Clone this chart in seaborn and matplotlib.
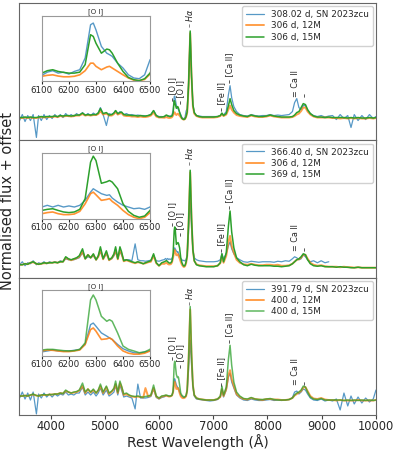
import numpy as np
import matplotlib
matplotlib.use('Agg')
import matplotlib.pyplot as plt
import seaborn as sns

sns.set_style('ticks')
plt.rcParams['font.family'] = ['DejaVu Sans']

# ── Datos: longitud de onda (Å) y flujo normalizado + offset ──────────────
wave = [3430, 3480, 3530, 3580, 3630, 3680, 3740, 3780, 3830, 3880, 3930, 3980,
        4030, 4080, 4130, 4180, 4230, 4280, 4330, 4380, 4430, 4480,
        4530, 4590, 4640, 4690, 4740, 4790, 4840, 4880, 4920, 4970,
        5030, 5080, 5130, 5170, 5200, 5240, 5280, 5310, 5350, 5400,
        5450, 5500, 5560, 5610, 5660, 5710, 5750, 5800, 5850, 5900, 5950, 6000, 6050,
        6100, 6120, 6140, 6160, 6180, 6200, 6220, 6240, 6260, 6280, 6290, 6300,
        6320, 6340, 6350, 6360, 6380, 6400, 6420, 6440, 6460, 6480, 6500,
        6520, 6545, 6575, 6600, 6625, 6650, 6690, 6740, 6800, 6870,
        6940, 7010, 7080, 7130, 7160, 7190, 7240, 7280, 7310, 7340,
        7380, 7430, 7490, 7560, 7630, 7700, 7770, 7840, 7910, 7980,
        8050, 8120, 8190, 8260, 8330, 8400, 8460, 8500, 8540, 8580,
        8620, 8660, 8700, 8740, 8790, 8850, 8920, 8990, 9060, 9130,
        9200, 9270, 9340, 9410, 9480, 9540, 9600, 9670, 9740, 9810, 9880, 9950, 10000]

# Panel superior
top_sn = [2.0, 2.6, 1.9, 2.5, 2.0, 2.6, 0.3, 2.5, 2.0, 2.6, 2.1, 2.5,
          2.2, 2.6, 2.3, 2.6, 2.3, 2.7, 2.4, 2.6, 2.4, 2.7,
          2.5, 2.8, 2.5, 2.7, 2.5, 2.75, 2.55, 2.8, 3.3, 2.6,
          1.5, 2.7, 2.6, 2.8, 3.0, 2.6, 2.9, 2.8, 2.6, 2.7,
          2.55, 2.6, 2.5, 2.55, 2.5, 2.5, 2.45, 2.5, 2.6, 3.0, 2.5, 2.4, 2.4,
          2.32, 2.45, 2.51, 2.41, 2.45, 2.37, 2.48, 2.55, 3.03, 4.40, 4.47, 4.19,
          3.51, 3.23, 3.17, 3.10, 2.82, 2.62, 2.34, 2.21, 2.18, 2.34, 2.96,
          3.2, 5.8, 10.7, 6.3, 3.6, 2.8, 2.5, 2.45, 2.4, 2.4,
          2.4, 2.4, 2.4, 2.5, 2.7, 2.55, 2.9, 4.6, 5.5, 4.3,
          3.4, 2.9, 2.6, 2.5, 2.45, 2.6, 2.5, 2.45, 2.5, 2.5,
          2.6, 2.5, 2.55, 2.5, 2.55, 2.6, 2.9, 3.8, 4.2, 3.3,
          3.1, 3.5, 3.5, 3.0, 2.7, 2.5, 2.4, 2.5, 2.35, 2.45,
          2.5, 2.1, 2.6, 2.2, 2.5, 1.3, 2.6, 2.0, 2.5, 2.1, 2.6, 2.2, 2.4]
top_12m = [2.25, 2.25, 2.3, 2.25, 2.3, 2.25, 2.25, 2.3, 2.35, 2.3, 2.35, 2.35,
           2.35, 2.4, 2.35, 2.45, 2.4, 2.45, 2.45, 2.4, 2.45, 2.5,
           2.5, 2.65, 2.5, 2.55, 2.5, 2.55, 2.55, 2.65, 2.95, 2.6,
           2.7, 2.5, 2.5, 2.65, 2.85, 2.6, 2.7, 2.75, 2.5, 2.45,
           2.45, 2.4, 2.4, 2.35, 2.4, 2.35, 2.35, 2.4, 2.5, 2.8, 2.4, 2.3, 2.3,
           2.28, 2.32, 2.34, 2.29, 2.26, 2.26, 2.28, 2.34, 2.51, 2.82, 2.82, 2.69,
           2.55, 2.66, 2.69, 2.62, 2.48, 2.34, 2.21, 2.12, 2.10, 2.15, 2.37,
           2.8, 5.3, 10.8, 6.4, 3.4, 2.7, 2.45, 2.35, 2.3, 2.3,
           2.3, 2.3, 2.35, 2.45, 2.65, 2.45, 2.6, 3.1, 3.5, 3.1,
           2.8, 2.55, 2.45, 2.4, 2.35, 2.5, 2.4, 2.35, 2.35, 2.4,
           2.5, 2.4, 2.35, 2.3, 2.3, 2.3, 2.35, 2.45, 2.6, 2.7,
           2.95, 3.3, 3.3, 2.9, 2.6, 2.4, 2.3, 2.3, 2.3, 2.3,
           2.25, 2.25, 2.2, 2.25, 2.2, 2.25, 2.2, 2.25, 2.2, 2.2, 2.25, 2.2, 2.25]
top_15m = [2.3, 2.3, 2.35, 2.3, 2.35, 2.3, 2.3, 2.35, 2.4, 2.35, 2.4, 2.4,
           2.4, 2.45, 2.4, 2.5, 2.45, 2.5, 2.5, 2.45, 2.5, 2.55,
           2.55, 2.75, 2.55, 2.6, 2.55, 2.6, 2.6, 2.75, 3.2, 2.7,
           2.8, 2.55, 2.6, 2.75, 3.0, 2.7, 2.8, 2.85, 2.6, 2.55,
           2.55, 2.5, 2.5, 2.45, 2.5, 2.45, 2.45, 2.5, 2.6, 3.0, 2.5, 2.35, 2.35,
           2.41, 2.51, 2.55, 2.48, 2.44, 2.41, 2.41, 2.45, 2.76, 3.99, 3.92, 3.64,
           3.23, 3.40, 3.37, 3.23, 2.82, 2.48, 2.23, 2.14, 2.10, 2.18, 2.41,
           2.9, 5.5, 11.0, 6.5, 3.6, 2.8, 2.5, 2.4, 2.35, 2.35,
           2.35, 2.35, 2.4, 2.5, 2.75, 2.5, 2.7, 3.5, 4.2, 3.6,
           3.0, 2.7, 2.55, 2.45, 2.4, 2.55, 2.45, 2.4, 2.4, 2.45,
           2.55, 2.45, 2.4, 2.35, 2.35, 2.35, 2.4, 2.55, 2.8, 2.9,
           3.3, 3.7, 3.6, 3.1, 2.7, 2.45, 2.35, 2.35, 2.3, 2.35,
           2.3, 2.3, 2.3, 2.3, 2.25, 2.3, 2.25, 2.3, 2.25, 2.25, 2.3, 2.25, 2.3]

# Panel medio
nan = np.nan
mid_sn = [1.3, 1.6, 1.2, 1.5, 1.4, 1.7, 1.3, 1.5, 1.4, 1.6, 1.4, 1.6,
          1.5, 1.6, 1.5, 1.7, 1.6, 1.9, 1.8, 1.8, 1.8, 1.9,
          2.0, 2.5, 1.9, 2.1, 2.0, 2.2, 1.8, 2.1, 2.6, 1.9,
          2.4, 1.8, 1.9, 2.2, 2.6, 1.9, 2.6, 2.3, 1.8, 1.8,
          1.8, 1.7, 3.4, 1.8, 1.7, 1.7, 1.65, 1.7, 1.75, 2.2, 1.7, 1.65, 1.75,
          1.82, 1.93, 1.82, 1.93, 1.82, 1.89, 1.82, 1.93, 2.25, 2.78, 3.00, 2.89,
          2.68, 2.57, 2.61, 2.40, 2.14, 1.93, 1.82, 1.71, 1.75, 1.67, 1.82,
          2.3, 4.6, 8.0, 5.0, 2.8, 2.0, 1.8, 1.7, 1.65, 1.6,
          1.6, 1.6, 1.65, 1.8, 2.4, 1.9, 2.4, 3.2, 3.6, 2.9,
          2.4, 2.0, 1.8, 1.6, 1.55, 1.65, 1.6, 1.55, 1.6, 1.6,
          1.6, 1.55, 1.65, 1.6, 1.7, 1.65, 1.9, 2.1, 2.0, 1.8,
          1.9, 2.3, 2.1, 1.8, 1.6, 1.7, 1.5, 1.7, 1.5, 1.6,
          nan, nan, nan, nan, nan, nan, nan, nan, nan, nan, nan, nan, nan]
mid_12m = [1.3, 1.3, 1.4, 1.35, 1.5, 1.55, 1.4, 1.35, 1.4, 1.45, 1.45, 1.5,
           1.5, 1.55, 1.5, 1.6, 1.6, 2.0, 1.85, 1.75, 1.85, 1.95,
           2.1, 2.6, 1.9, 2.3, 2.0, 2.3, 1.8, 2.1, 2.8, 1.85,
           2.5, 1.75, 1.95, 2.3, 2.8, 1.85, 2.8, 2.4, 1.65, 1.75,
           1.65, 1.55, 1.45, 1.55, 1.5, 1.4, 1.45, 1.55, 1.6, 2.2, 1.45, 1.2, 1.4,
           1.39, 1.46, 1.50, 1.39, 1.33, 1.33, 1.37, 1.54, 2.03, 2.68, 2.78, 2.61,
           2.25, 2.31, 2.36, 2.18, 1.93, 1.60, 1.33, 1.16, 1.07, 1.16, 1.46,
           2.2, 5.4, 10.6, 5.9, 2.8, 1.7, 1.35, 1.25, 1.2, 1.15,
           1.15, 1.15, 1.2, 1.45, 2.2, 1.5, 2.2, 3.6, 4.2, 3.2,
           2.5, 1.8, 1.5, 1.35, 1.3, 1.4, 1.3, 1.25, 1.25, 1.3,
           1.3, 1.25, 1.3, 1.2, 1.2, 1.25, 1.4, 1.6, 1.8, 1.85,
           2.0, 2.3, 2.3, 1.9, 1.5, 1.3, 1.2, 1.25, 1.15, 1.1,
           1.1, 1.1, 1.05, 1.1, 1.05, 1.05, 1.0, 1.05, 1.0, 1.0, 1.0, 1.0, 1.0]
mid_15m = [1.3, 1.3, 1.4, 1.35, 1.5, 1.6, 1.4, 1.35, 1.4, 1.5, 1.45, 1.5,
           1.5, 1.55, 1.5, 1.6, 1.6, 2.1, 1.9, 1.8, 1.9, 2.0,
           2.2, 2.9, 1.9, 2.3, 2.0, 2.4, 1.8, 2.2, 3.1, 1.9,
           2.7, 1.8, 2.0, 2.4, 3.1, 1.9, 3.1, 2.6, 1.7, 1.8,
           1.7, 1.6, 1.5, 1.6, 1.5, 1.4, 1.5, 1.6, 1.7, 2.4, 1.5, 1.2, 1.5,
           1.60, 1.67, 1.71, 1.60, 1.50, 1.46, 1.50, 1.67, 2.36, 4.71, 5.10, 4.82,
           3.35, 3.45, 3.53, 3.43, 3.00, 2.03, 1.54, 1.28, 1.16, 1.24, 1.60,
           2.2, 5.5, 10.8, 6.0, 2.8, 1.7, 1.3, 1.2, 1.15, 1.1,
           1.1, 1.1, 1.2, 1.5, 2.4, 1.6, 2.5, 5.2, 6.7, 4.6,
           3.0, 2.0, 1.6, 1.3, 1.2, 1.35, 1.25, 1.2, 1.2, 1.2,
           1.2, 1.15, 1.15, 1.1, 1.15, 1.2, 1.4, 1.6, 1.8, 1.9,
           2.1, 2.4, 2.3, 1.8, 1.4, 1.2, 1.15, 1.2, 1.1, 1.1,
           1.1, 1.05, 1.1, 1.05, 1.05, 1.0, 1.0, 1.05, 1.0, 1.0, 1.0, 1.0, 1.0]

# Panel inferior
bot_sn = [1.7, 2.3, 1.6, 2.2, 1.5, 2.3, 0.1, 2.1, 1.7, 2.2, 1.8, 2.1,
          1.8, 2.1, 1.9, 2.1, 2.0, 2.3, 2.0, 2.1, 2.0, 2.2,
          2.2, 2.8, 2.0, 2.3, 2.0, 2.3, 1.9, 2.2, 2.7, 2.0,
          2.5, 1.9, 2.1, 2.3, 3.0, 2.0, 3.0, 2.5, 1.8, 1.9,
          1.8, 1.7, 0.6, 3.1, 1.7, 1.7, 1.7, 1.75, 1.85, 2.6, 1.75, 1.6, 1.75,
          1.83, 1.89, 1.95, 1.89, 1.87, 1.89, 1.93, 1.99, 2.30, 3.54, 3.64, 3.44,
          3.02, 2.82, 2.71, 2.61, 2.30, 2.03, 1.89, 1.78, 1.75, 1.83, 1.89,
          2.4, 4.5, 7.5, 5.0, 2.8, 1.9, 1.6, 1.55, 1.5, 1.45,
          1.4, 1.45, 1.55, 1.8, 2.5, 1.8, 2.5, 3.8, 4.2, 3.3,
          2.7, 2.0, 1.7, 1.5, 1.45, 1.6, 1.5, 1.45, 1.45, 1.5,
          1.55, 1.45, 1.5, 1.45, 1.5, 1.55, 1.75, 2.3, 2.4, 2.1,
          2.3, 2.6, 2.5, 2.1, 1.7, 1.5, 1.45, 1.6, 1.4, 1.5,
          1.4, 1.6, 0.5, 2.2, 0.9, 1.9, 1.1, 1.8, 1.2, 1.7, 1.3, 1.6, 2.5]
bot_12m = [1.9, 1.9, 1.95, 1.9, 2.0, 2.05, 1.95, 1.9, 2.0, 2.0, 2.0, 2.05,
           2.05, 2.1, 2.1, 2.2, 2.15, 2.4, 2.3, 2.2, 2.25, 2.3,
           2.45, 2.9, 2.2, 2.6, 2.25, 2.5, 2.2, 2.45, 2.9, 2.2,
           2.8, 2.1, 2.35, 2.6, 3.1, 2.2, 3.2, 2.8, 2.0, 2.1,
           1.95, 1.85, 1.8, 1.85, 1.8, 1.75, 2.7, 1.85, 1.95, 2.7, 1.85, 1.65, 1.85,
           1.89, 1.95, 1.93, 1.89, 1.85, 1.85, 1.89, 1.95, 2.30, 3.23, 3.33, 3.13,
           2.61, 2.65, 2.71, 2.61, 2.20, 1.89, 1.75, 1.69, 1.69, 1.75, 1.89,
           2.5, 5.5, 10.6, 6.0, 3.0, 2.0, 1.7, 1.6, 1.55, 1.5,
           1.5, 1.5, 1.6, 1.8, 2.6, 1.9, 2.6, 4.0, 4.5, 3.6,
           2.9, 2.1, 1.8, 1.6, 1.55, 1.7, 1.6, 1.55, 1.5, 1.6,
           1.6, 1.55, 1.55, 1.5, 1.5, 1.55, 1.7, 1.95, 2.1, 2.25,
           2.4, 2.75, 2.8, 2.4, 1.9, 1.65, 1.6, 1.7, 1.55, 1.5,
           1.5, 1.45, 1.5, 1.45, 1.45, 1.45, 1.45, 1.5, 1.45, 1.45, 1.45, 1.45, 1.5]
bot_15m = [1.9, 1.9, 1.95, 1.9, 2.0, 2.1, 1.95, 1.9, 2.0, 2.05, 2.0, 2.05,
           2.05, 2.1, 2.1, 2.2, 2.15, 2.5, 2.3, 2.2, 2.3, 2.35,
           2.5, 3.2, 2.3, 2.6, 2.3, 2.6, 2.2, 2.5, 3.1, 2.3,
           2.9, 2.2, 2.4, 2.7, 3.4, 2.3, 3.4, 2.9, 2.1, 2.2,
           2.0, 1.9, 1.85, 1.9, 1.8, 1.8, 1.85, 1.9, 2.0, 3.0, 1.9, 1.7, 1.9,
           1.95, 1.99, 1.99, 1.95, 1.91, 1.89, 1.91, 1.99, 2.40, 5.09, 5.40, 5.09,
           4.06, 3.75, 3.85, 3.75, 3.02, 2.20, 1.99, 1.89, 1.78, 1.83, 1.99,
           2.5, 5.6, 10.9, 6.2, 3.0, 2.0, 1.7, 1.6, 1.55, 1.5,
           1.5, 1.5, 1.6, 1.9, 2.9, 2.0, 2.8, 5.6, 7.0, 5.0,
           3.3, 2.3, 1.9, 1.65, 1.6, 1.75, 1.6, 1.55, 1.55, 1.6,
           1.65, 1.55, 1.5, 1.5, 1.5, 1.55, 1.7, 2.0, 2.2, 2.3,
           2.5, 2.9, 2.8, 2.3, 1.8, 1.6, 1.55, 1.65, 1.5, 1.5,
           1.5, 1.5, 1.5, 1.45, 1.5, 1.45, 1.5, 1.45, 1.5, 1.45, 1.5, 1.45, 1.5]

legend_top = ['308.02 d, SN 2023zcu', '306 d, 12M', '306 d, 15M']
legend_mid = ['366.40 d, SN 2023zcu', '306 d, 12M', '369 d, 15M']
legend_bot = ['391.79 d, SN 2023zcu', '400 d, 12M', '400 d, 15M']

# Líneas identificadas y altura de las etiquetas en cada panel
line_x = [6245, 6400, 6565, 7150, 7300, 8525, 8690]
line_txt = ['– [O I]', '– [O I]', r'– $H\alpha$', '– [Fe II]', '– [Ca II]', '= Ca II', '–']
lab_top = [4.0, 3.7, 11.3, 3.0, 5.8, 4.4, 4.4]
lab_mid = [5.2, 4.2, 11.2, 2.6, 6.9, 2.7, 2.7]
lab_bot = [5.5, 4.7, 11.0, 2.9, 7.2, 3.0, 3.0]

for arr in [top_sn, top_12m, top_15m, mid_sn, mid_12m, mid_15m, bot_sn, bot_12m, bot_15m]:
    if len(arr) != len(wave):
        raise ValueError(f'longitud {len(arr)} != {len(wave)}')

AZUL = 'C0'; NARANJA = 'C1'; VERDE = 'C2'


def dibujar(ax, sn, m12, m15, nombres, alturas, ins_lim, alpha15=1.0):
    sns.lineplot(x=wave, y=sn, ax=ax, color=AZUL, alpha=0.75, lw=0.9,
                 label=nombres[0], estimator=None, sort=False)
    sns.lineplot(x=wave, y=m12, ax=ax, color=NARANJA, alpha=0.75, lw=1.4,
                 label=nombres[1], estimator=None, sort=False)
    sns.lineplot(x=wave, y=m15, ax=ax, color=VERDE, alpha=alpha15, lw=1.1,
                 label=nombres[2], estimator=None, sort=False)
    ax.set_xlim(3420, 10000)
    ax.set_ylim(0, 13.8)
    ax.set_yticks([])
    ax.set_ylabel('')
    ax.tick_params(axis='x', labelsize=8.5, length=3, pad=1.5, color='#444444')
    for sp in ax.spines.values():
        sp.set_edgecolor('#666666'); sp.set_linewidth(0.8)
    ax.legend(loc='upper right', fontsize=6.4, framealpha=0.9, edgecolor='#cccccc',
              handlelength=2.0, borderpad=0.45, labelspacing=0.25, borderaxespad=0.35)
    for x, t, y in zip(line_x, line_txt, alturas):
        ax.text(x, y, t, rotation=90, ha='center', va='bottom', fontsize=5.8)

    ins = ax.inset_axes([0.064, 0.43, 0.303, 0.48])
    sns.lineplot(x=wave, y=sn, ax=ins, color=AZUL, alpha=0.75, lw=1.0,
                 estimator=None, sort=False, legend=False)
    sns.lineplot(x=wave, y=m12, ax=ins, color=NARANJA, alpha=0.85, lw=1.2,
                 estimator=None, sort=False, legend=False)
    sns.lineplot(x=wave, y=m15, ax=ins, color=VERDE, alpha=alpha15, lw=1.1,
                 estimator=None, sort=False, legend=False)
    ins.set_xlim(6100, 6500)
    ins.set_ylim(*ins_lim)
    ins.set_yticks([])
    ins.set_xticks([6100, 6200, 6300, 6400, 6500])
    ins.tick_params(axis='x', labelsize=6.3, length=2, pad=1)
    ins.set_xlabel(''); ins.set_ylabel('')
    ins.set_title('[O I]', fontsize=5, pad=1.5)
    for sp in ins.spines.values():
        sp.set_edgecolor('#999999'); sp.set_linewidth(0.8)


fig, axes = plt.subplots(3, 1, sharex=True, figsize=(3.97, 4.51), dpi=100)
fig.subplots_adjust(left=0.048, right=0.947, top=0.993, bottom=0.08, hspace=0)

dibujar(axes[0], top_sn, top_12m, top_15m, legend_top, lab_top, (2.07, 4.78))
dibujar(axes[1], mid_sn, mid_12m, mid_15m, legend_mid, lab_mid, (1.07, 5.32))
dibujar(axes[2], bot_sn, bot_12m, bot_15m, legend_bot, lab_bot, (1.58, 5.71),
        alpha15=0.75)

axes[2].set_xticks([4000, 5000, 6000, 7000, 8000, 9000, 10000])
axes[2].tick_params(axis='x', labelsize=8.3, pad=1)
axes[2].set_xlabel('Rest Wavelength (Å)', fontsize=10, labelpad=0.5)
fig.text(0.02, 0.555, 'Normalised flux + offset', rotation=90, va='center',
         ha='center', fontsize=10.5)

plt.savefig('out.png', dpi=100)
